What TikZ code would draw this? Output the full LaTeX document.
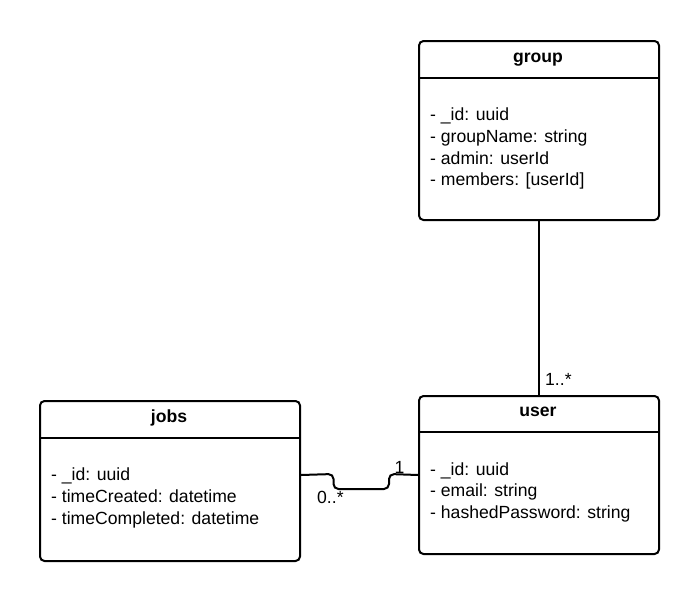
\documentclass[tikz,border=0pt]{standalone}
\usepackage{fontspec}
\setmainfont{Liberation Sans}
\begin{document}
\begin{tikzpicture}[x=1pt,y=-1pt,
  box/.style={draw=black, line width=2pt, rounded corners=4.5pt, fill=white, inner sep=0pt, anchor=north west},
  conn/.style={draw=black, line width=2pt},
  title/.style={font=\bfseries\fontsize{17.6}{21}\selectfont, anchor=base, inner sep=0pt},
  attrs/.style={font=\fontsize{17.6}{21.7}\selectfont, align=left, anchor=base west, inner sep=0pt},
  mult/.style={font=\fontsize{17.6}{21}\selectfont, anchor=base west, inner sep=0pt}]
\useasboundingbox[fill=white] (0,0) rectangle (699,600);

% group
\node[box, minimum width=240pt, minimum height=179pt] (group) at (418,40) {};
\draw[line width=2pt] ([yshift=-37.5pt]group.north west) -- ([yshift=-37.5pt]group.north east);
\node[title] (grouptitle) at (538,62.7) {group};
\node[attrs] (groupattrs) at (430,185.8) {- \_id: uuid\\- groupName: string\\- admin: userId\\- members: [userId]};

% jobs
\node[box, minimum width=260pt, minimum height=160pt] (jobs) at (39,400) {};
\draw[line width=2pt] ([yshift=-37.5pt]jobs.north west) -- ([yshift=-37.5pt]jobs.north east);
\node[title] (jobstitle) at (169,422.7) {jobs};
\node[attrs] (jobsattrs) at (51,524.1) {- \_id: uuid\\- timeCreated: datetime\\- timeCompleted: datetime};

% user
\node[box, minimum width=240pt, minimum height=158pt] (user) at (418,395) {};
\draw[line width=2pt] ([yshift=-37pt]user.north west) -- ([yshift=-37pt]user.north east);
\node[title] (usertitle) at (538,416.7) {user};
\node[attrs] (userattrs) at (430,518.4) {- \_id: uuid\\- email: string\\- hashedPassword: string};

% connectors
\draw[conn] (group.south) -- (user.north);
\node[mult] (m1) at (545,385) {1..*};

\draw[conn, rounded corners=5pt] (jobs.east |- user.west) -- (333.5,474) -- (333.5,489) -- (389,489) -- (389,474) -- (user.west);
\node[mult] (m2) at (317,503) {0..*};
\node[mult] (m3) at (394.5,473) {1};
\end{tikzpicture}
\end{document}
